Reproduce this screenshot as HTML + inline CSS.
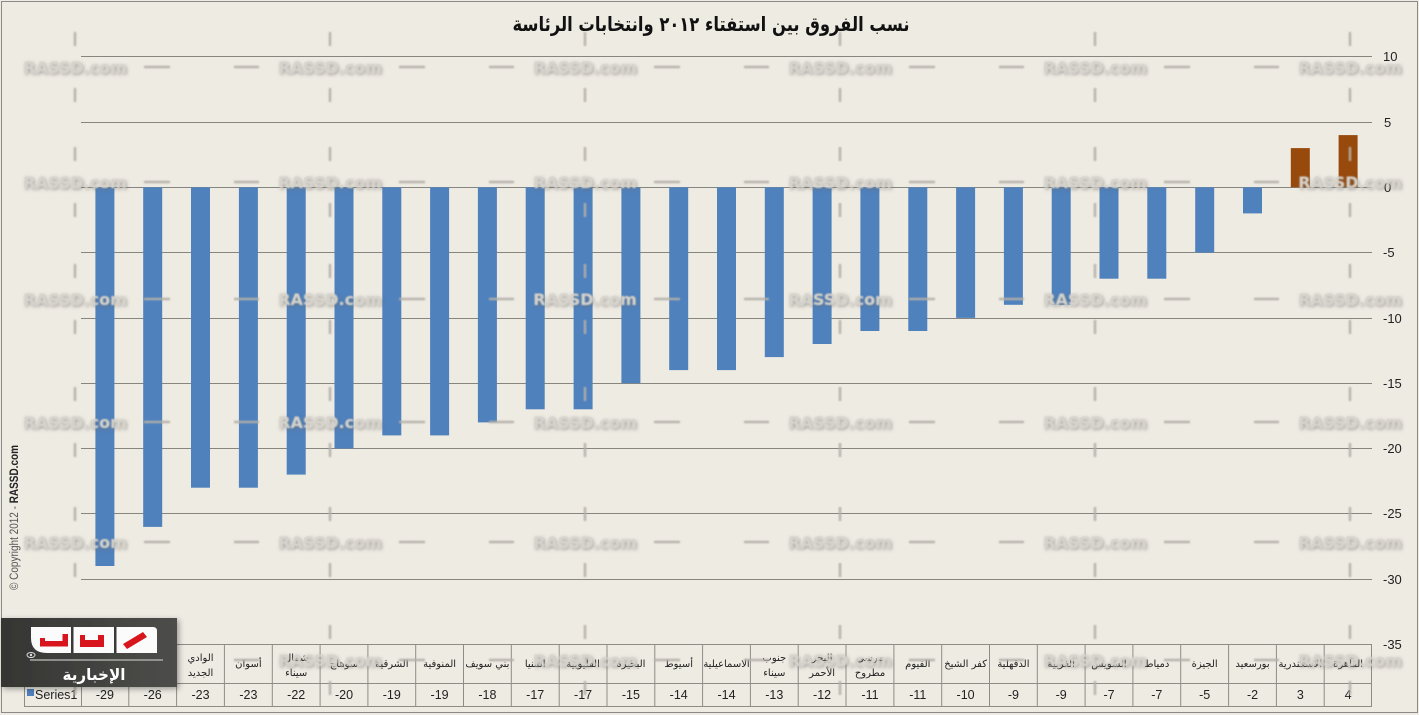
<!DOCTYPE html>
<html><head><meta charset="utf-8"><style>
html,body{margin:0;padding:0;background:#EEEBE3;}
svg{display:block;}
</style></head><body>
<svg width="1419" height="715" viewBox="0 0 1419 715" xmlns="http://www.w3.org/2000/svg">
<defs>
<filter id="emb" x="-10%" y="-60%" width="120%" height="220%">
<feGaussianBlur in="SourceAlpha" stdDeviation="1.8" result="b"/>
<feOffset in="b" dx="1" dy="1.5" result="o"/>
<feFlood flood-color="#6a6863" flood-opacity="0.65"/>
<feComposite in2="o" operator="in" result="s"/>
<feGaussianBlur in="SourceGraphic" stdDeviation="0.7" result="t"/>
<feMerge><feMergeNode in="s"/><feMergeNode in="t"/></feMerge>
</filter>
<filter id="soft" x="-50%" y="-50%" width="200%" height="200%"><feGaussianBlur stdDeviation="0.9"/></filter>
<filter id="shadow" x="-10%" y="-20%" width="125%" height="150%">
<feGaussianBlur in="SourceAlpha" stdDeviation="3"/><feOffset dx="2" dy="2" result="o"/>
<feFlood flood-color="#000" flood-opacity="0.35"/><feComposite in2="o" operator="in" result="s"/>
<feMerge><feMergeNode in="s"/><feMergeNode in="SourceGraphic"/></feMerge>
</filter>
<linearGradient id="lg" x1="0" y1="0" x2="1" y2="0">
<stop offset="0" stop-color="#353533"/><stop offset="1" stop-color="#4d4d4a"/>
</linearGradient>
</defs>

<rect x="0" y="0" width="1419" height="715" fill="#EEEBE3"/>
<rect x="1.5" y="1.5" width="1416" height="711" fill="none" stroke="#8a8a8a" stroke-width="1"/>

<!-- title -->
<text x="711" y="31" text-anchor="middle" font-family="'DejaVu Sans', sans-serif" font-weight="bold" font-size="20" fill="#111" textLength="397" lengthAdjust="spacingAndGlyphs">نسب الفروق بين استفتاء ٢٠١٢ وانتخابات الرئاسة</text>

<!-- gridlines -->
<g stroke="#878580" stroke-width="1">
<line x1="81" y1="56.5" x2="1372" y2="56.5"/>
<line x1="81" y1="122.5" x2="1372" y2="122.5"/>
<line x1="81" y1="187.5" x2="1372" y2="187.5"/>
<line x1="81" y1="252.5" x2="1372" y2="252.5"/>
<line x1="81" y1="318.5" x2="1372" y2="318.5"/>
<line x1="81" y1="383.5" x2="1372" y2="383.5"/>
<line x1="81" y1="448.5" x2="1372" y2="448.5"/>
<line x1="81" y1="513.5" x2="1372" y2="513.5"/>
<line x1="81" y1="579.5" x2="1372" y2="579.5"/>
</g>

<!-- axis labels -->
<g font-family="'Liberation Sans', sans-serif" font-size="13" fill="#222">
<text x="1383" y="61">10</text>
<text x="1384" y="127">5</text>
<text x="1384" y="192">0</text>
<text x="1383" y="257">-5</text>
<text x="1383" y="323">-10</text>
<text x="1383" y="388">-15</text>
<text x="1383" y="453">-20</text>
<text x="1383" y="518">-25</text>
<text x="1383" y="584">-30</text>
<text x="1383" y="649">-35</text>
</g>

<!-- bars -->
<g fill="#4F81BD">
<rect x="95.4" y="187.3" width="19" height="378.7"/>
<rect x="143.2" y="187.3" width="19" height="339.6"/>
<rect x="191.0" y="187.3" width="19" height="300.4"/>
<rect x="238.9" y="187.3" width="19" height="300.4"/>
<rect x="286.7" y="187.3" width="19" height="287.3"/>
<rect x="334.5" y="187.3" width="19" height="261.2"/>
<rect x="382.3" y="187.3" width="19" height="248.1"/>
<rect x="430.1" y="187.3" width="19" height="248.1"/>
<rect x="477.9" y="187.3" width="19" height="235.1"/>
<rect x="525.7" y="187.3" width="19" height="222.0"/>
<rect x="573.6" y="187.3" width="19" height="222.0"/>
<rect x="621.4" y="187.3" width="19" height="195.9"/>
<rect x="669.2" y="187.3" width="19" height="182.8"/>
<rect x="717.0" y="187.3" width="19" height="182.8"/>
<rect x="764.8" y="187.3" width="19" height="169.8"/>
<rect x="812.6" y="187.3" width="19" height="156.7"/>
<rect x="860.4" y="187.3" width="19" height="143.7"/>
<rect x="908.3" y="187.3" width="19" height="143.7"/>
<rect x="956.1" y="187.3" width="19" height="130.6"/>
<rect x="1003.9" y="187.3" width="19" height="117.5"/>
<rect x="1051.7" y="187.3" width="19" height="117.5"/>
<rect x="1099.5" y="187.3" width="19" height="91.4"/>
<rect x="1147.3" y="187.3" width="19" height="91.4"/>
<rect x="1195.2" y="187.3" width="19" height="65.3"/>
<rect x="1243.0" y="187.3" width="19" height="26.1"/>
</g>
<g fill="#984A0C">
<rect x="1290.8" y="148.1" width="19" height="39.2"/>
<rect x="1338.6" y="135.1" width="19" height="52.2"/>
</g>

<!-- table -->
<g stroke="#8e8c87" stroke-width="1" fill="none">
<line x1="81" y1="644.5" x2="1372" y2="644.5"/>
<line x1="24" y1="683.5" x2="1372" y2="683.5"/>
<line x1="24" y1="706.5" x2="1372" y2="706.5"/>
<line x1="24.5" y1="683" x2="24.5" y2="707"/>
<line x1="81.5" y1="644" x2="81.5" y2="707"/>
<line x1="128.8" y1="644" x2="128.8" y2="707"/>
<line x1="176.6" y1="644" x2="176.6" y2="707"/>
<line x1="224.4" y1="644" x2="224.4" y2="707"/>
<line x1="272.3" y1="644" x2="272.3" y2="707"/>
<line x1="320.1" y1="644" x2="320.1" y2="707"/>
<line x1="367.9" y1="644" x2="367.9" y2="707"/>
<line x1="415.7" y1="644" x2="415.7" y2="707"/>
<line x1="463.5" y1="644" x2="463.5" y2="707"/>
<line x1="511.3" y1="644" x2="511.3" y2="707"/>
<line x1="559.2" y1="644" x2="559.2" y2="707"/>
<line x1="607.0" y1="644" x2="607.0" y2="707"/>
<line x1="654.8" y1="644" x2="654.8" y2="707"/>
<line x1="702.6" y1="644" x2="702.6" y2="707"/>
<line x1="750.4" y1="644" x2="750.4" y2="707"/>
<line x1="798.2" y1="644" x2="798.2" y2="707"/>
<line x1="846.0" y1="644" x2="846.0" y2="707"/>
<line x1="893.9" y1="644" x2="893.9" y2="707"/>
<line x1="941.7" y1="644" x2="941.7" y2="707"/>
<line x1="989.5" y1="644" x2="989.5" y2="707"/>
<line x1="1037.3" y1="644" x2="1037.3" y2="707"/>
<line x1="1085.1" y1="644" x2="1085.1" y2="707"/>
<line x1="1132.9" y1="644" x2="1132.9" y2="707"/>
<line x1="1180.7" y1="644" x2="1180.7" y2="707"/>
<line x1="1228.6" y1="644" x2="1228.6" y2="707"/>
<line x1="1276.4" y1="644" x2="1276.4" y2="707"/>
<line x1="1324.2" y1="644" x2="1324.2" y2="707"/>
<line x1="1371.5" y1="644" x2="1371.5" y2="707"/>
</g>

<!-- legend key -->
<rect x="27" y="689" width="7" height="7" fill="#4F81BD"/>
<text x="35" y="699" font-family="'Liberation Sans', sans-serif" font-size="12.5" fill="#222">Series1</text>

<!-- values -->
<g font-family="'Liberation Sans', sans-serif" font-size="12.5" fill="#222" text-anchor="middle">
<text x="104.9" y="699">-29</text>
<text x="152.7" y="699">-26</text>
<text x="200.5" y="699">-23</text>
<text x="248.4" y="699">-23</text>
<text x="296.2" y="699">-22</text>
<text x="344.0" y="699">-20</text>
<text x="391.8" y="699">-19</text>
<text x="439.6" y="699">-19</text>
<text x="487.4" y="699">-18</text>
<text x="535.2" y="699">-17</text>
<text x="583.1" y="699">-17</text>
<text x="630.9" y="699">-15</text>
<text x="678.7" y="699">-14</text>
<text x="726.5" y="699">-14</text>
<text x="774.3" y="699">-13</text>
<text x="822.1" y="699">-12</text>
<text x="870.0" y="699">-11</text>
<text x="917.8" y="699">-11</text>
<text x="965.6" y="699">-10</text>
<text x="1013.4" y="699">-9</text>
<text x="1061.2" y="699">-9</text>
<text x="1109.0" y="699">-7</text>
<text x="1156.8" y="699">-7</text>
<text x="1204.7" y="699">-5</text>
<text x="1252.5" y="699">-2</text>
<text x="1300.3" y="699">3</text>
<text x="1348.1" y="699">4</text>
</g>

<!-- category labels -->
<g font-family="'DejaVu Sans', sans-serif" font-size="10" fill="#222" text-anchor="middle">
<text x="104.9" y="667">الأقصر</text>
<text x="152.7" y="667">قنا</text>
<text x="200.5" y="661">الوادي</text>
<text x="200.5" y="676">الجديد</text>
<text x="248.4" y="667">أسوان</text>
<text x="296.2" y="661">شمال</text>
<text x="296.2" y="676">سيناء</text>
<text x="344.0" y="667">سوهاج</text>
<text x="391.8" y="667">الشرقية</text>
<text x="439.6" y="667">المنوفية</text>
<text x="487.4" y="667">بني سويف</text>
<text x="535.2" y="667">المنيا</text>
<text x="583.1" y="667">القليوبية</text>
<text x="630.9" y="667">البحيرة</text>
<text x="678.7" y="667">أسيوط</text>
<text x="726.5" y="667">الاسماعيلية</text>
<text x="774.3" y="661">جنوب</text>
<text x="774.3" y="676">سيناء</text>
<text x="822.1" y="661">البحر</text>
<text x="822.1" y="676">الأحمر</text>
<text x="870.0" y="661">مرسى</text>
<text x="870.0" y="676">مطروح</text>
<text x="917.8" y="667">الفيوم</text>
<text x="965.6" y="667">كفر الشيخ</text>
<text x="1013.4" y="667">الدقهلية</text>
<text x="1061.2" y="667">الغربية</text>
<text x="1109.0" y="667">السويس</text>
<text x="1156.8" y="667">دمياط</text>
<text x="1204.7" y="667">الجيزة</text>
<text x="1252.5" y="667">بورسعيد</text>
<text x="1300.3" y="667">الاسكندرية</text>
<text x="1348.1" y="667">القاهرة</text>
</g>

<!-- watermark ticks & dashes -->
<g stroke="#b3b0a9" stroke-width="2.5" fill="none" filter="url(#soft)" opacity="0.9">
<path transform="translate(75,0)" d="M0,32v14M0,88v14M0,147v14M0,203v14M0,264v14M0,320v14M0,387v14M0,443v14M0,507v14M0,563v14M0,625v14M0,681v14M69,67h26M159,67h25M69,182h26M159,182h25M69,299h26M159,299h25M69,422h26M159,422h25M69,542h26M159,542h25M69,660h26M159,660h25"/>
<path transform="translate(330,0)" d="M0,32v14M0,88v14M0,147v14M0,203v14M0,264v14M0,320v14M0,387v14M0,443v14M0,507v14M0,563v14M0,625v14M0,681v14M69,67h26M159,67h25M69,182h26M159,182h25M69,299h26M159,299h25M69,422h26M159,422h25M69,542h26M159,542h25M69,660h26M159,660h25"/>
<path transform="translate(585,0)" d="M0,32v14M0,88v14M0,147v14M0,203v14M0,264v14M0,320v14M0,387v14M0,443v14M0,507v14M0,563v14M0,625v14M0,681v14M69,67h26M159,67h25M69,182h26M159,182h25M69,299h26M159,299h25M69,422h26M159,422h25M69,542h26M159,542h25M69,660h26M159,660h25"/>
<path transform="translate(840,0)" d="M0,32v14M0,88v14M0,147v14M0,203v14M0,264v14M0,320v14M0,387v14M0,443v14M0,507v14M0,563v14M0,625v14M0,681v14M69,67h26M159,67h25M69,182h26M159,182h25M69,299h26M159,299h25M69,422h26M159,422h25M69,542h26M159,542h25M69,660h26M159,660h25"/>
<path transform="translate(1095,0)" d="M0,32v14M0,88v14M0,147v14M0,203v14M0,264v14M0,320v14M0,387v14M0,443v14M0,507v14M0,563v14M0,625v14M0,681v14M69,67h26M159,67h25M69,182h26M159,182h25M69,299h26M159,299h25M69,422h26M159,422h25M69,542h26M159,542h25M69,660h26M159,660h25"/>
<path transform="translate(1350,0)" d="M0,32v14M0,88v14M0,147v14M0,203v14M0,264v14M0,320v14M0,387v14M0,443v14M0,507v14M0,563v14M0,625v14M0,681v14"/>
</g>

<!-- watermark text -->
<g font-family="'DejaVu Sans', sans-serif" font-weight="bold" font-size="16" fill="#d6d3cc" text-anchor="middle" filter="url(#emb)">
<text x="75" y="73">RASSD.com</text><text x="330" y="73">RASSD.com</text><text x="585" y="73">RASSD.com</text><text x="840" y="73">RASSD.com</text><text x="1095" y="73">RASSD.com</text><text x="1350" y="73">RASSD.com</text>
<text x="75" y="188">RASSD.com</text><text x="330" y="188">RASSD.com</text><text x="585" y="188">RASSD.com</text><text x="840" y="188">RASSD.com</text><text x="1095" y="188">RASSD.com</text><text x="1350" y="188">RASSD.com</text>
<text x="75" y="305">RASSD.com</text><text x="330" y="305">RASSD.com</text><text x="585" y="305">RASSD.com</text><text x="840" y="305">RASSD.com</text><text x="1095" y="305">RASSD.com</text><text x="1350" y="305">RASSD.com</text>
<text x="75" y="428">RASSD.com</text><text x="330" y="428">RASSD.com</text><text x="585" y="428">RASSD.com</text><text x="840" y="428">RASSD.com</text><text x="1095" y="428">RASSD.com</text><text x="1350" y="428">RASSD.com</text>
<text x="75" y="548">RASSD.com</text><text x="330" y="548">RASSD.com</text><text x="585" y="548">RASSD.com</text><text x="840" y="548">RASSD.com</text><text x="1095" y="548">RASSD.com</text><text x="1350" y="548">RASSD.com</text>
<text x="75" y="666">RASSD.com</text><text x="330" y="666">RASSD.com</text><text x="585" y="666">RASSD.com</text><text x="840" y="666">RASSD.com</text><text x="1095" y="666">RASSD.com</text><text x="1350" y="666">RASSD.com</text>
</g>

<!-- copyright -->
<text transform="translate(18,590) rotate(-90)" font-family="'Liberation Sans Narrow','Liberation Sans', sans-serif" font-size="11.5" fill="#555" textLength="145" lengthAdjust="spacingAndGlyphs">© Copyright 2012 - <tspan font-weight="bold" fill="#222">RASSD.com</tspan></text>

<!-- logo -->
<g filter="url(#shadow)">
<rect x="1" y="618" width="176" height="69" fill="url(#lg)"/>
</g>
<path d="M31,627 H153 Q157,627 157,631 V653 H47 Q31,653 31,638 Z" fill="#fbfbfb"/>
<rect x="71" y="627" width="2.5" height="26" fill="#3a3a38"/>
<rect x="114" y="627" width="2.5" height="26" fill="#3a3a38"/>
<g fill="#d8141c">
<rect x="40" y="641" width="28" height="5.5"/>
<rect x="62.5" y="634" width="5.5" height="12.5"/>
<rect x="40" y="638" width="5" height="8.5"/>
<rect x="80" y="635" width="24" height="12"/>
<polygon points="123,644 143,632 147,637 127,649"/>
</g>
<rect x="85" y="635" width="13" height="5" fill="#fbfbfb"/>
<line x1="30" y1="660" x2="163" y2="660" stroke="#a9a9a6" stroke-width="1.5"/>
<ellipse cx="31" cy="655" rx="4" ry="2.5" fill="none" stroke="#ddd" stroke-width="1"/>
<circle cx="31" cy="655" r="1.2" fill="#ddd"/>
<text x="94" y="680" text-anchor="middle" font-family="'DejaVu Sans', sans-serif" font-weight="bold" font-size="16" fill="#fff" textLength="63" lengthAdjust="spacingAndGlyphs">الإخبارية</text>
</svg>
</body></html>
